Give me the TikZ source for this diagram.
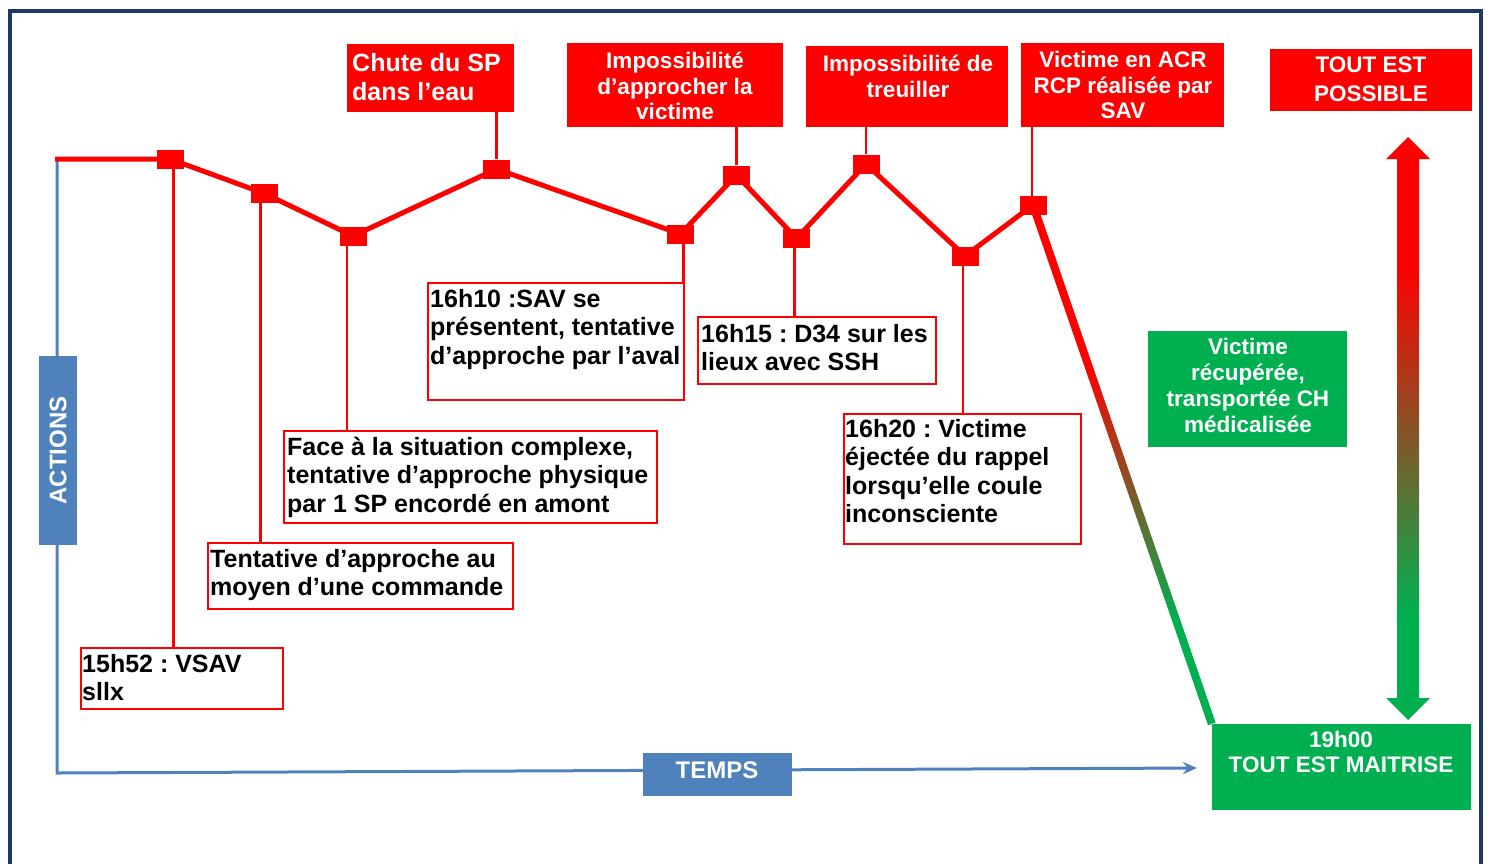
\documentclass[tikz,border=0pt]{standalone}
\usepackage{fontspec}
\setmainfont{Liberation Sans}
\usetikzlibrary{arrows.meta,calc,backgrounds}
\definecolor{axisblue}{HTML}{4F81BD}
\definecolor{navy}{HTML}{1F3864}
\definecolor{bred}{HTML}{FF0000}
\definecolor{bgreen}{HTML}{00B050}
\pgfdeclareverticalshading{arrowshade}{100bp}{color(0bp)=(bgreen); color(34bp)=(bgreen); color(64bp)=(bred); color(100bp)=(bred)}
\pgfdeclareverticalshading{diagshade}{100bp}{color(0bp)=(bgreen); color(35bp)=(bgreen); color(60bp)=(bred); color(100bp)=(bred)}
\newcommand\myst{\rule{0pt}{20pt}}
\frenchspacing
\begin{document}
\begin{tikzpicture}[x=1pt,y=-1pt,
  redline/.style={bred,line width=5pt,line join=round},
  conn/.style={bred,line width=2.7pt},
  blueline/.style={axisblue,line width=3pt},
  marker/.style={fill=bred,draw=none,minimum width=27pt,minimum height=19pt,inner sep=0pt},
  blackbox/.style={draw=bred,line width=2.5pt,fill=white,inner sep=0pt},
  redbox/.style={fill=bred,draw=none,inner sep=0pt},
  greenbox/.style={fill=bgreen,draw=none,inner sep=0pt},
  bluebox/.style={fill=axisblue,draw=none,inner sep=0pt,text=white,font=\fontsize{24}{28}\selectfont\bfseries},
  blacktxt/.style={inner sep=0pt,anchor=north west,align=left,text=black,font=\fontsize{25}{28.5}\selectfont\bfseries},
  whitetxt/.style={inner sep=0pt,anchor=north,align=center,text=white,font=\fontsize{22.5}{25.8}\selectfont\bfseries},
  whitetxtl/.style={inner sep=0pt,anchor=north west,align=left,text=white,font=\fontsize{25}{29}\selectfont\bfseries},
]
\useasboundingbox (0,0) rectangle (1491,863);
% outer frame
\draw[navy,line width=4pt] (9.5,880) -- (9.5,10.5) -- (1481,10.5) -- (1481,880);

% markers
\node[marker] (m1) at (170,159) {};
\node[marker] (m2) at (264.5,193.5) {};
\node[marker] (m3) at (353,236) {};
\node[marker] (m4) at (496.5,169) {};
\node[marker] (m5) at (680.5,234) {};
\node[marker] (m6) at (736.5,175) {};
\node[marker] (m7) at (796.5,238.5) {};
\node[marker] (m8) at (866,164) {};
\node[marker] (m9) at (965,256) {};
\node[marker] (m10) at (1033,205) {};
\coordinate (rstart) at (55,159);

% axis coordinates
\coordinate (atop) at (57,158);
\coordinate (acorner) at (57,773);
\coordinate (aend) at (1197,768);

% blue boxes
\node[bluebox,minimum width=38pt,minimum height=189pt] (actions) at (58,450.5) {\rotatebox{90}{ACTIONS}};
\node[bluebox,minimum width=149pt,minimum height=43pt,text height=17pt,text depth=9pt] (temps) at (717,774.5) {TEMPS};

% red top boxes
\node[redbox,minimum width=167pt,minimum height=68pt] (c1) at (430.5,78) {};
\node[redbox,minimum width=216pt,minimum height=84pt] (c2) at (675,85) {};
\node[redbox,minimum width=202pt,minimum height=81pt] (c3) at (907,86.5) {};
\node[redbox,minimum width=203pt,minimum height=84pt] (c4) at (1122.5,85) {};
\node[redbox,minimum width=202pt,minimum height=62pt] (c5) at (1371,80) {};

\node[whitetxtl] (tc1) at (352,51) {\myst Chute du SP\\dans l’eau};
\node[whitetxt] (tc2) at (675,48) {\myst Impossibilité\\d’approcher la\\victime};
\node[whitetxt] (tc3) at (908,51) {\myst Impossibilité de\\treuiller};
\node[whitetxt] (tc4) at (1123,47) {\myst Victime en ACR\\RCP réalisée par\\SAV};
\node[whitetxt,font=\fontsize{22.5}{29}\selectfont\bfseries] (tc5) at (1371,52) {\myst TOUT EST\\POSSIBLE};

% green boxes
\node[greenbox,minimum width=199pt,minimum height=116pt] (g1) at (1247.5,389) {};
\node[greenbox,minimum width=259pt,minimum height=86pt] (g2) at (1341.5,767) {};
\node[whitetxt,font=\fontsize{22.5}{26}\selectfont\bfseries] (tg1) at (1248,334) {\myst Victime\\récupérée,\\transportée CH\\médicalisée};
\node[whitetxt,font=\fontsize{22.5}{25}\selectfont\bfseries] (tg2) at (1341,727) {\myst 19h00\\TOUT EST MAITRISE};

% black text boxes
\node[blackbox,minimum width=202pt,minimum height=61pt] (b1) at (182,678.5) {};
\node[blackbox,minimum width=305pt,minimum height=66pt] (b2) at (360.5,576) {};
\node[blackbox,minimum width=373pt,minimum height=92pt] (b3) at (470.5,477) {};
\node[blackbox,minimum width=256pt,minimum height=117pt] (b4) at (556,341.5) {};
\node[blackbox,minimum width=238pt,minimum height=67pt] (b5) at (817,350.5) {};
\node[blackbox,minimum width=237pt,minimum height=130pt] (b6) at (962.5,479) {};

\node[blacktxt] (t1) at (82,652) {\myst 15h52 : VSAV\\sllx};
\node[blacktxt] (t2) at (210,547) {\myst Tentative d’approche au\\moyen d’une commande};
\node[blacktxt] (t3) at (287,435) {\myst Face à la situation complexe,\\tentative d’approche physique\\par 1 SP encordé en amont};
\node[blacktxt] (t4) at (430,287) {\myst 16h10 :SAV se\\présentent, tentative\\d’approche par l’aval};
\node[blacktxt] (t5) at (701,322) {\myst 16h15 : D34 sur les\\lieux avec SSH};
\node[blacktxt] (t6) at (845,417) {\myst 16h20 : Victime\\éjectée du rappel\\lorsqu’elle coule\\inconsciente};

% double arrow
\coordinate (dtop) at (1408,137);
\coordinate (dbot) at (1408,720);

\begin{scope}[on background layer]
  \draw[blueline,-{Stealth[length=14pt,width=12pt]}] (atop) -- (acorner) -- (aend);
  \draw[redline] (rstart) -- (m1.center) -- (m2.center) -- (m3.center) -- (m4.center) -- (m5.center) -- (m6.center) -- (m7.center) -- (m8.center) -- (m9.center) -- (m10.center);
  \draw[conn] ($(m1)+(3.5,0)$) -- ($(m1 |- b1.north)+(3.5,0)$);
  \draw[conn] ($(m2)+(-4,0)$) -- ($(m2 |- b2.north)+(-4,0)$);
  \draw[conn] ($(m3)+(-6,0)$) -- ($(m3 |- b3.north)+(-6,0)$);
  \draw[conn] ($(m5)+(3,0)$) -- ($(m5 |- b4.north)+(3,0)$);
  \draw[conn] ($(m7)+(-2,0)$) -- ($(m7 |- b5.north)+(-2,0)$);
  \draw[conn] ($(m9)+(-2,0)$) -- ($(m9 |- b6.north)+(-2,0)$);
  \draw[conn] (m4) -- (m4 |- c1.south);
  \draw[conn] (m6) -- (m6 |- c2.south);
  \draw[conn] (m8) -- (m8 |- c3.south);
  \draw[conn] ($(m10)+(-1,0)$) -- ($(m10 |- c4.south)+(-1,0)$);
  \shade[shading=diagshade] ($(m10.center)!4pt!90:(g2.north west)$) -- ($(m10.center)!4pt!-90:(g2.north west)$) -- ($(g2.north west)!4pt!90:(m10.center)$) -- ($(g2.north west)!4pt!-90:(m10.center)$) -- cycle;
  \shade[shading=arrowshade] (dtop) -- ++(22,22) -- ++(-11,0) -- ($(dbot)+(11,-22)$) -- ++(11,0) -- (dbot) -- ++(-22,-22) -- ++(11,0) -- ($(dtop)+(-11,22)$) -- ++(-11,0) -- cycle;
\end{scope}
\end{tikzpicture}
\end{document}
